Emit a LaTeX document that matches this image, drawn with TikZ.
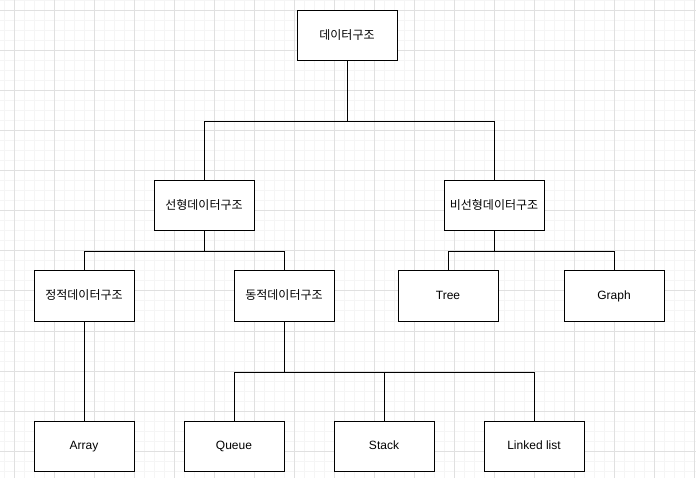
\documentclass[tikz,border=0pt]{standalone}
\usepackage{fontspec}
\setmainfont{Liberation Sans}
\newfontfamily\krfont{Noto Sans CJK KR}
\usetikzlibrary{positioning}

\begin{document}
\begin{tikzpicture}[x=1pt,y=-1pt,font=\fontsize{12}{14}\selectfont,box/.style={draw,line width=1pt,fill=white,minimum width=100pt,minimum height=50pt,inner sep=0pt,text height=9pt,text depth=2.5pt},link/.style={line width=1pt,black}]
\useasboundingbox (0,0) rectangle (696,478);
\fill[white] (0,0) rectangle (696,478);
% grid
\foreach \x in {4,14,...,694} \draw[black!4,line width=1pt] (\x,0) -- (\x,478);
\foreach \y in {1,11,...,471} \draw[black!4,line width=1pt] (0,\y) -- (696,\y);
\foreach \x in {14,54,...,694} \draw[black!12,line width=1pt] (\x,0) -- (\x,478);
\foreach \y in {11,51,...,471} \draw[black!12,line width=1pt] (0,\y) -- (696,\y);
% nodes
\node[box] (root) at (347,36) {\krfont 데이터구조};
\node[box] (lin) at (204,206) {\krfont 선형데이터구조};
\node[box] (nonlin) at (494,206) {\krfont 비선형데이터구조};
\node[box] (static) at (84,296) {\krfont 정적데이터구조};
\node[box] (dynamic) at (284,296) {\krfont 동적데이터구조};
\node[box] (tree) at (448,296) {Tree};
\node[box] (graph) at (614,296) {Graph};
\node[box] (array) at (84,446) {Array};
\node[box] (queue) at (234,446) {Queue};
\node[box] (stack) at (384,446) {Stack};
\node[box] (linked) at (534,446) {Linked list};
% connectors
\draw[link] (root.south) -- ++(0,60) -| (lin.north);
\draw[link] (root.south) -- ++(0,60) -| (nonlin.north);
\draw[link] (lin.south) -- ++(0,20) -| (static.north);
\draw[link] (lin.south) -- ++(0,20) -| (dynamic.north);
\draw[link] (nonlin.south) -- ++(0,20) -| (tree.north);
\draw[link] (nonlin.south) -- ++(0,20) -| (graph.north);
\draw[link] (static.south) -- (array.north);
\draw[link] (dynamic.south) -- ++(0,51) -| (queue.north);
\draw[link] (dynamic.south) -- ++(0,51) -| (stack.north);
\draw[link] (dynamic.south) -- ++(0,51) -| (linked.north);
\end{tikzpicture}
\end{document}
